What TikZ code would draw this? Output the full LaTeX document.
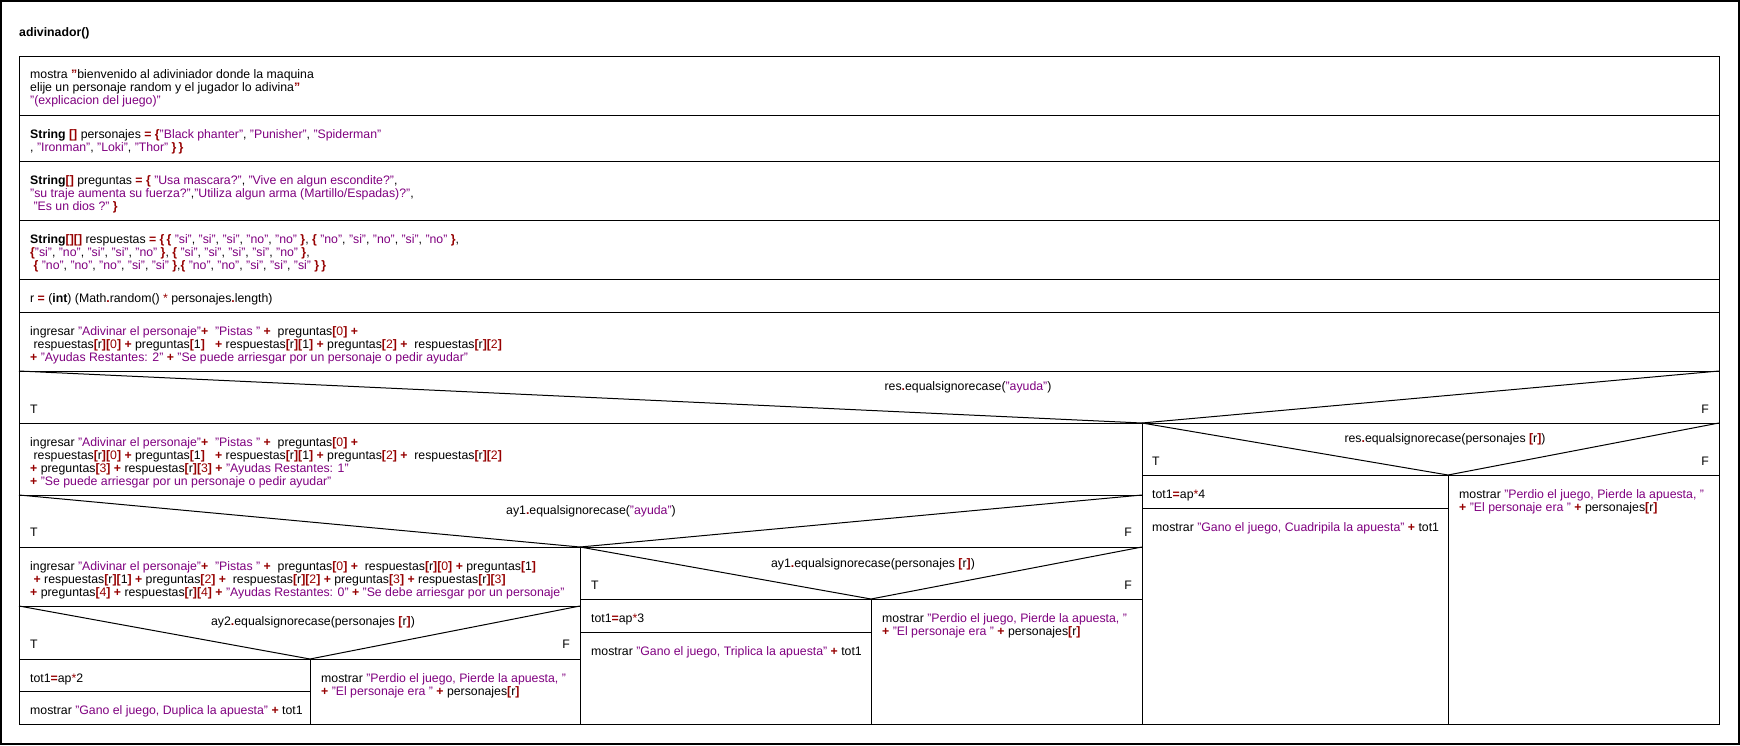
\documentclass[tikz,border=0pt]{standalone}
\usepackage{fontspec}
\setmainfont{Liberation Sans}
\definecolor{opred}{RGB}{150,0,0}
\definecolor{strpur}{RGB}{128,0,128}
% syntax colouring helpers
\newcommand\op[1]{\textcolor{opred}{\textbf{#1}}}
\newcommand\st[1]{\textcolor{strpur}{#1}}
\newcommand\nm[1]{\textcolor{opred}{#1}}
\begin{document}
\begin{tikzpicture}[x=1pt,y=-1pt,
  frame/.style={draw=black,line width=1pt},
  code/.style={anchor=north west,inner sep=0pt,align=left,
    font=\fontsize{12.3}{13.2}\selectfont},
  cond/.style={anchor=base,inner sep=0pt,font=\fontsize{12.3}{13.2}\selectfont},
  tlab/.style={anchor=base west,inner sep=0pt,font=\fontsize{12.3}{13.2}\selectfont},
  flab/.style={anchor=base east,inner sep=0pt,font=\fontsize{12.3}{13.2}\selectfont}]
\useasboundingbox (0,0) rectangle (1740,745);
\fill[white] (0,0) rectangle (1740,745);
% outer frame and title
\draw[line width=1.4pt] (1,1) rectangle (1739,744);
\node[anchor=base west,inner sep=0pt,font=\fontsize{12.3}{13.2}\selectfont\bfseries] (title) at (19,36) {adivinador()};
% main column
\draw[frame] (19,56) rectangle (1719,724);
\foreach \yy in {115,161,220,279,312,371}
  \draw[frame] (19,\yy) -- (1719,\yy);
% if res == "ayuda"
\draw[frame] (19,423) -- (1719,423);
\draw[frame] (19,371) -- (1142,423) -- (1719,371);
\draw[frame] (1142,423) -- (1142,724);
% left branch
\draw[frame] (19,495) -- (1142,495);
\draw[frame] (19,495) -- (580,547) -- (1142,495);
\draw[frame] (19,547) -- (1142,547);
\draw[frame] (580,547) -- (580,724);
% left-left branch
\draw[frame] (19,606) -- (580,606);
\draw[frame] (19,606) -- (310,659) -- (580,606);
\draw[frame] (19,659) -- (580,659);
\draw[frame] (310,659) -- (310,724);
\draw[frame] (19,691) -- (310,691);
% left-right branch
\draw[frame] (580,547) -- (871,599) -- (1142,547);
\draw[frame] (580,599) -- (1142,599);
\draw[frame] (871,599) -- (871,724);
\draw[frame] (580,632) -- (871,632);
% right branch
\draw[frame] (1142,423) -- (1448,475) -- (1719,423);
\draw[frame] (1142,475) -- (1719,475);
\draw[frame] (1448,475) -- (1448,724);
\draw[frame] (1142,508) -- (1448,508);

% statements of the main column
\node[code] (s1) at (30,68.6) {\strut mostra \op{"}bienvenido al adiviniador donde la maquina\\
elije un personaje random y el jugador lo adivina\op{"}\\
\st{"(explicacion del juego)"}};
\node[code] (s2) at (30,128.6) {\strut\textbf{String} \op{[]} personajes \op{=} \op{\{}\st{"Black phanter"}, \st{"Punisher"}, \st{"Spiderman"}\\
, \st{"Ironman"}, \st{"Loki"}, \st{"Thor"} \op{\}\,\}}};
\node[code] (s3) at (30,174.6) {\strut\textbf{String}\op{[]} preguntas \op{=} \op{\{} \st{"Usa mascara?"}, \st{"Vive en algun escondite?"},\\
\st{"su traje aumenta su fuerza?"},\st{"Utiliza algun arma (Martillo/Espadas)?"},\\
\ \st{"Es un dios ?"} \op{\}}};
\node[code] (s4) at (30,233.6) {\strut\textbf{String}\op{[][]} respuestas \op{=} \op{\{\,\{} \st{"si"}, \st{"si"}, \st{"si"}, \st{"no"}, \st{"no"} \op{\}}, \op{\{} \st{"no"}, \st{"si"}, \st{"no"}, \st{"si"}, \st{"no"} \op{\}},\\
\op{\{}\st{"si"}, \st{"no"}, \st{"si"}, \st{"si"}, \st{"no"} \op{\}}, \op{\{} \st{"si"}, \st{"si"}, \st{"si"}, \st{"si"}, \st{"no"} \op{\}},\\
\ \op{\{} \st{"no"}, \st{"no"}, \st{"no"}, \st{"si"}, \st{"si"} \op{\}},\op{\{} \st{"no"}, \st{"no"}, \st{"si"}, \st{"si"}, \st{"si"} \op{\}\,\}}};
\node[code] (s5) at (30,292.6) {\strut r \op{=} (\textbf{int}) (Math\op{.}random() \nm{*} personajes\op{.}length)};
\node[code] (s6) at (30,325.6) {\strut ingresar \st{"Adivinar el personaje"}\op{+}\ \ \st{"Pistas "} \op{+}\ \ preguntas\op{[}\nm{0}\op{]} \op{+}\\
\ respuestas\op{[}r\op{][}\nm{0}\op{]} \op{+} preguntas\op{[}1\op{]}\ \ \ \op{+} respuestas\op{[}r\op{][}1\op{]} \op{+} preguntas\op{[}\nm{2}\op{]} \op{+}\ \ respuestas\op{[}r\op{][}\nm{2}\op{]}\\
\op{+} \st{"Ayudas Restantes: 2"} \op{+} \st{"Se puede arriesgar por un personaje o pedir ayudar"}};

% first decision
\node[cond] (c1) at (968,390) {res\op{.}equalsignorecase(\st{"ayuda"})};
\node[tlab] (c1t) at (30,413) {T};
\node[flab] (c1f) at (1709,413) {F};

% left branch
\node[code] (l1) at (30,436.6) {\strut ingresar \st{"Adivinar el personaje"}\op{+}\ \ \st{"Pistas "} \op{+}\ \ preguntas\op{[}\nm{0}\op{]} \op{+}\\
\ respuestas\op{[}r\op{][}\nm{0}\op{]} \op{+} preguntas\op{[}1\op{]}\ \ \ \op{+} respuestas\op{[}r\op{][}1\op{]} \op{+} preguntas\op{[}\nm{2}\op{]} \op{+}\ \ respuestas\op{[}r\op{][}\nm{2}\op{]}\\
\op{+} preguntas\op{[}\nm{3}\op{]} \op{+} respuestas\op{[}r\op{][}\nm{3}\op{]} \op{+} \st{"Ayudas Restantes: 1"}\\
\op{+} \st{"Se puede arriesgar por un personaje o pedir ayudar"}};
\node[cond] (c2) at (591,514) {ay1\op{.}equalsignorecase(\st{"ayuda"})};
\node[tlab] (c2t) at (30,536) {T};
\node[flab] (c2f) at (1132,536) {F};

% left-left branch
\node[code] (ll1) at (30,560.6) {\strut ingresar \st{"Adivinar el personaje"}\op{+}\ \ \st{"Pistas "} \op{+}\ \ preguntas\op{[}\nm{0}\op{]} \op{+}\ \ respuestas\op{[}r\op{][}\nm{0}\op{]} \op{+} preguntas\op{[}1\op{]}\\
\ \op{+} respuestas\op{[}r\op{][}1\op{]} \op{+} preguntas\op{[}\nm{2}\op{]} \op{+}\ \ respuestas\op{[}r\op{][}\nm{2}\op{]} \op{+} preguntas\op{[}\nm{3}\op{]} \op{+} respuestas\op{[}r\op{][}\nm{3}\op{]}\\
\op{+} preguntas\op{[}\nm{4}\op{]} \op{+} respuestas\op{[}r\op{][}\nm{4}\op{]} \op{+} \st{"Ayudas Restantes: 0"} \op{+} \st{"Se debe arriesgar por un personaje"}};
\node[cond] (c3) at (313,625) {ay2\op{.}equalsignorecase(personajes \op{[}r\op{]})};
\node[tlab] (c3t) at (30,648) {T};
\node[flab] (c3f) at (570,648) {F};
\node[code] (a2) at (30,672.6) {\strut tot1\op{=}ap\nm{*}2};
\node[code] (g2) at (30,704.6) {\strut mostrar \st{"Gano el juego, Duplica la apuesta"} \op{+} tot1};
\node[code] (p2) at (321,672.6) {\strut mostrar \st{"Perdio el juego, Pierde la apuesta, "}\\
\op{+} \st{"El personaje era "} \op{+} personajes\op{[}r\op{]}};

% left-right branch
\node[cond] (c4) at (873,567) {ay1\op{.}equalsignorecase(personajes \op{[}r\op{]})};
\node[tlab] (c4t) at (591,589) {T};
\node[flab] (c4f) at (1132,589) {F};
\node[code] (a3) at (591,612.6) {\strut tot1\op{=}ap\nm{*}3};
\node[code] (g3) at (591,645.6) {\strut mostrar \st{"Gano el juego, Triplica la apuesta"} \op{+} tot1};
\node[code] (p3) at (882,612.6) {\strut mostrar \st{"Perdio el juego, Pierde la apuesta, "}\\
\op{+} \st{"El personaje era "} \op{+} personajes\op{[}r\op{]}};

% right branch
\node[cond] (c5) at (1445,442) {res\op{.}equalsignorecase(personajes \op{[}r\op{]})};
\node[tlab] (c5t) at (1152,465) {T};
\node[flab] (c5f) at (1709,465) {F};
\node[code] (a4) at (1152,488.6) {\strut tot1\op{=}ap\nm{*}4};
\node[code] (g4) at (1152,521.6) {\strut mostrar \st{"Gano el juego, Cuadripila la apuesta"} \op{+} tot1};
\node[code] (p4) at (1459,488.6) {\strut mostrar \st{"Perdio el juego, Pierde la apuesta, "}\\
\op{+} \st{"El personaje era "} \op{+} personajes\op{[}r\op{]}};
\end{tikzpicture}
\end{document}
